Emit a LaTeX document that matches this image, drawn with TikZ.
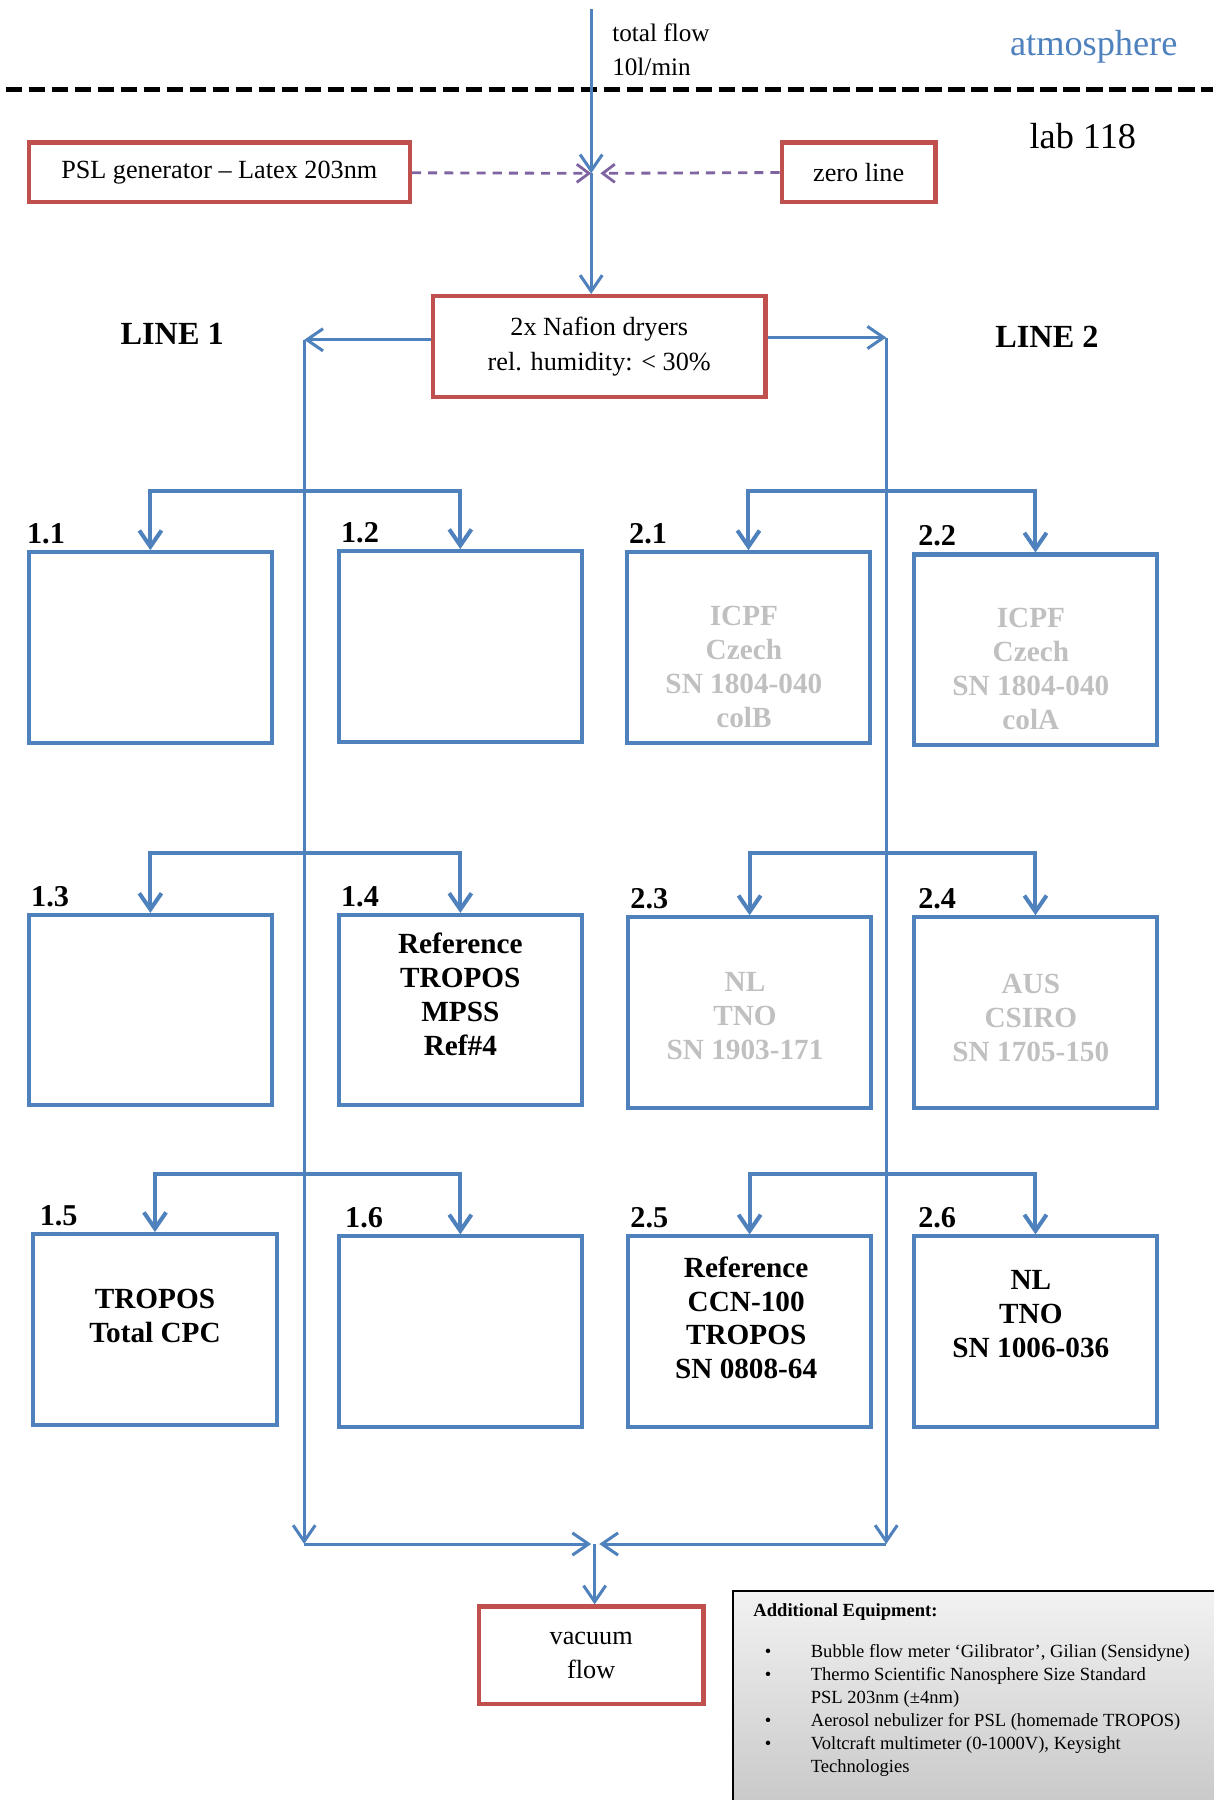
\documentclass[tikz,border=0pt]{standalone}
\usepackage{fontspec}
\setmainfont{Liberation Serif}
\usepackage{tikz}
\usetikzlibrary{arrows.meta,calc,positioning}
\definecolor{flowblue}{RGB}{79,129,189}
\definecolor{boxred}{RGB}{192,80,77}
\definecolor{dashpurple}{RGB}{128,100,162}
\definecolor{fadegray}{RGB}{192,192,192}
\begin{document}
\begin{tikzpicture}[x=0.02cm,y=-0.02cm,
  redbox/.style={draw=boxred,line width=2.2pt,align=center,font=\fontsize{13}{17}\selectfont},
  bluebox/.style={draw=flowblue,line width=2pt,minimum width=4.24cm,minimum height=3.32cm},
  boxtext/.style={align=center,font=\bfseries\fontsize{14.5}{16.8}\selectfont},
  faded/.style={text=fadegray},
  tag/.style={font=\bfseries\fontsize{15}{15}\selectfont,inner sep=0pt},
  flow/.style={flowblue,line width=1.5pt,-{Straight Barb[length=8pt,width=11pt]}},
  branch/.style={flowblue,line width=2pt,{Straight Barb[length=8pt,width=11pt]}-{Straight Barb[length=8pt,width=11pt]}},
  supply/.style={dashpurple,line width=1.4pt,dash pattern=on 4.5pt off 3.5pt,-{Straight Barb[length=6pt,width=9pt]}}]
\useasboundingbox (0,0) rectangle (1057,1568);
% atmosphere / lab
\draw[line width=2.8pt,dash pattern=on 8pt off 3.4pt] (5,78) -- (1057,78);
\node[font=\fontsize{12.5}{17}\selectfont,anchor=north west,align=left,inner sep=0pt] (flowtxt) at (533,20) {total flow\\10l/min};
\node[text=flowblue,font=\fontsize{18}{18}\selectfont,anchor=base east,inner sep=0pt] (atm) at (1026,48) {atmosphere};
\node[font=\fontsize{18}{18}\selectfont,anchor=base east,inner sep=0pt] (lab) at (990,129) {lab 118};
\node[font=\bfseries\fontsize{16}{16}\selectfont,anchor=base,inner sep=0pt] (line1) at (150,300) {LINE 1};
\node[font=\bfseries\fontsize{16}{16}\selectfont,anchor=base,inner sep=0pt] (line2) at (912,303) {LINE 2};
% inlet
\node[redbox,minimum width=6.64cm,minimum height=1.04cm] (psl) at (191,150) {PSL generator -- Latex 203nm};
\node[redbox,minimum width=2.68cm,minimum height=1.04cm] (zero) at (748,150) {zero line};
\node[redbox,minimum width=5.8cm,minimum height=1.76cm] (nafion) at (522,302) {2x Nafion dryers\\rel. humidity: < 30\%};
\node[redbox,minimum width=3.92cm,minimum height=1.7cm] (vacuum) at (515,1442) {vacuum\\flow};
\coordinate (inlet) at (515,8);
\coordinate (mix) at (515,151);
\coordinate (mixr) at (523,151);
\draw[flow] (inlet) -- (mix);
\draw[flow] (mix) -- (mix |- nafion.north);
\draw[supply] (psl) -- (mix);
\draw[supply] (zero) -- (mixr);
% instruments line 1
\node[bluebox] (b11) at (131,564) {};
\node[bluebox] (b12) at (401,563) {};
\node[bluebox] (b13) at (131,880) {};
\node[bluebox] (b14) at (401,880) {};
\node[bluebox] (b15) at (135,1158) {};
\node[bluebox] (b16) at (401,1160) {};
\node[boxtext] (x14) at ($(b14)+(0,-14)$) {Reference\\TROPOS\\MPSS\\Ref\#4};
\node[boxtext] (x15) at ($(b15)+(0,-12)$) {TROPOS\\Total CPC};
% instruments line 2
\node[bluebox] (b21) at (652,564) {};
\node[bluebox] (b22) at (902,566) {};
\node[bluebox] (b23) at (653,882) {};
\node[bluebox] (b24) at (902,882) {};
\node[bluebox] (b25) at (653,1160) {};
\node[bluebox] (b26) at (902,1160) {};
\node[boxtext,faded] (x21) at ($(b21)+(-4,17)$) {ICPF\\Czech\\SN 1804-040\\colB};
\node[boxtext,faded] (x22) at ($(b22)+(-4,17)$) {ICPF\\Czech\\SN 1804-040\\colA};
\node[boxtext,faded] (x23) at ($(b23)+(-4,3)$) {NL\\TNO\\SN 1903-171};
\node[boxtext,faded] (x24) at ($(b24)+(-4,5)$) {AUS\\CSIRO\\SN 1705-150};
\node[boxtext] (x25) at ($(b25)+(-3,-12)$) {Reference\\CCN-100\\TROPOS\\SN 0808-64};
\node[boxtext] (x26) at ($(b26)+(-4,-15)$) {NL\\TNO\\SN 1006-036};
% numbers
\node[tag,above right=3pt and 0pt of b11.north west] (t11) {1.1};
\node[tag,above right=3pt and 2pt of b12.north west] (t12) {1.2};
\node[tag,above right=3pt and 2pt of b13.north west] (t13) {1.3};
\node[tag,above right=3pt and 2pt of b14.north west] (t14) {1.4};
\node[tag,above right=3pt and 4pt of b15.north west] (t15) {1.5};
\node[tag,above right=3pt and 4pt of b16.north west] (t16) {1.6};
\node[tag,above right=3pt and 2pt of b21.north west] (t21) {2.1};
\node[tag,above right=3pt and 3pt of b22.north west] (t22) {2.2};
\node[tag,above right=3pt and 2pt of b23.north west] (t23) {2.3};
\node[tag,above right=3pt and 3pt of b24.north west] (t24) {2.4};
\node[tag,above right=3pt and 2pt of b25.north west] (t25) {2.5};
\node[tag,above right=3pt and 3pt of b26.north west] (t26) {2.6};
% main lines
\coordinate (l1top) at (265,296);
\coordinate (l1end) at (265,1345);
\coordinate (l2top) at (772,294);
\coordinate (l2end) at (772,1345);
\coordinate (sinkl) at (515,1345);
\coordinate (sinkr) at (522,1345);
\coordinate (sink) at (518,1345);
\draw[flow] (nafion.west |- l1top) -- (l1top);
\draw[flow] (l1top) -- (l1end);
\draw[flow] (l1end) -- (sinkl);
\draw[flow] (nafion.east |- l2top) -- (l2top);
\draw[flow] (l2top) -- (l2end);
\draw[flow] (l2end) -- (sinkr);
\draw[flow] (sink) -- (sink |- vacuum.north);
% branches
\coordinate (r1) at (0,428);
\coordinate (r2) at (0,743);
\coordinate (r3) at (0,1023);
\draw[branch] (b11.north) -- (b11.north |- r1) -- (b12.north |- r1) -- (b12.north);
\draw[branch] (b21.north) -- (b21.north |- r1) -- (b22.north |- r1) -- (b22.north);
\draw[branch] (b13.north) -- (b13.north |- r2) -- (b14.north |- r2) -- (b14.north);
\draw[branch] (b23.north) -- (b23.north |- r2) -- (b24.north |- r2) -- (b24.north);
\draw[branch] (b15.north) -- (b15.north |- r3) -- (b16.north |- r3) -- (b16.north);
\draw[branch] (b25.north) -- (b25.north |- r3) -- (b26.north |- r3) -- (b26.north);
% additional equipment
\node[draw=black,line width=1pt,top color=gray!10,bottom color=gray!45,anchor=north west,minimum width=8.7cm,minimum height=4cm] (equipbox) at (638,1385) {};
\node[anchor=north west,align=left,inner sep=0pt,font=\fontsize{9.2}{11.4}\selectfont] (equiptxt) at (656,1397)
  {\textbf{Additional Equipment:}\\[9pt]
   \begin{tabular}{@{}p{1.0cm}@{}l@{}}
   \hspace*{0.2cm}\textbullet & Bubble flow meter ‘Gilibrator’, Gilian (Sensidyne)\\
   \hspace*{0.2cm}\textbullet & Thermo Scientific Nanosphere Size Standard\\
    & PSL 203nm (±4nm)\\
   \hspace*{0.2cm}\textbullet & Aerosol nebulizer for PSL (homemade TROPOS)\\
   \hspace*{0.2cm}\textbullet & Voltcraft multimeter (0-1000V), Keysight\\
    & Technologies
   \end{tabular}};
\end{tikzpicture}
\end{document}
